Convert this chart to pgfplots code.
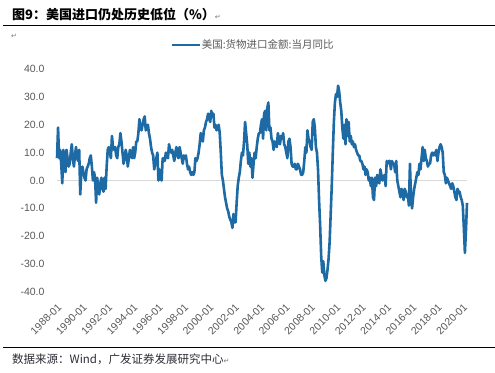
\documentclass[border=0pt]{standalone}
\usepackage{fontspec}
\usepackage{pgfplots}
\pgfplotsset{compat=1.18}
\usepackage{pgfplotstable}
\setmainfont{Liberation Sans}
\newfontfamily\cjk{Noto Sans CJK SC}
\newfontfamily\sym{DejaVu Sans}
\definecolor{lineblue}{RGB}{29,106,165}
\definecolor{txtgray}{RGB}{89,89,89}
\definecolor{zerogray}{RGB}{217,217,217}
\definecolor{srcgray}{RGB}{45,45,55}
\definecolor{markgray}{RGB}{120,120,120}

% US goods imports, YoY %, monthly from 1988-01 to 2020-05
\pgfplotstableread[row sep=\\]{
v\\
8\\19\\8\\11\\6\\-1\\11\\7\\3\\11\\8\\5\\
6\\10\\13\\8\\5\\9\\12\\8\\7\\11\\-5\\3\\
5\\3\\1\\0\\4\\5\\6\\8\\9\\5\\0\\3\\
1\\-8\\1\\-2\\-5\\-1\\1\\-3\\-4\\1\\-3\\5\\
11\\12\\10\\8\\16\\12\\11\\12\\9\\8\\12\\13\\
17\\14\\10\\6\\8\\11\\9\\5\\8\\11\\9\\8\\
12\\8\\10\\14\\14\\17\\22\\19\\18\\20\\22\\23\\
18\\19\\20\\17\\15\\12\\10\\9\\4\\6\\8\\10\\
0\\4\\1\\0\\8\\8\\7\\10\\9\\8\\13\\11\\
10\\11\\9\\7\\10\\12\\9\\8\\12\\10\\8\\6\\
9\\8\\9\\6\\4\\5\\3\\2\\3\\2\\3\\8\\
7\\8\\10\\13\\17\\15\\14\\18\\19\\21\\22\\24\\
22\\21\\25\\23\\24\\19\\20\\18\\19\\20\\17\\10\\
2\\0\\-3\\-6\\-8\\-10\\-11\\-13\\-14\\-15\\-17\\-12\\
-15\\-15\\-8\\-2\\1\\3\\7\\10\\9\\14\\21\\17\\
13\\6\\10\\5\\8\\1\\6\\10\\8\\12\\15\\17\\
17\\20\\22\\15\\24\\25\\18\\26\\28\\18\\19\\15\\
14\\11\\14\\13\\12\\17\\15\\13\\16\\15\\17\\13\\
12\\10\\8\\14\\15\\12\\6\\5\\5\\6\\4\\4\\
6\\5\\4\\2\\2\\3\\7\\12\\10\\18\\15\\14\\
12\\11\\21\\22\\19\\12\\10\\4\\-7\\-16\\-27\\-33\\
-29\\-34\\-36\\-35\\-32\\-28\\-22\\-12\\-2\\10\\21\\28\\
31\\30\\34\\32\\28\\25\\19\\15\\20\\13\\22\\16\\
21\\14\\16\\13\\14\\12\\13\\11\\10\\9\\9\\7\\
7\\6\\4\\5\\2\\4\\3\\0\\1\\-2\\1\\-6\\
-7\\1\\-2\\2\\0\\-1\\4\\2\\0\\1\\2\\-2\\
7\\6\\7\\7\\4\\7\\6\\6\\3\\7\\0\\-2\\
-4\\-6\\-3\\-4\\-7\\-3\\-4\\-6\\-5\\-9\\6\\-6\\
-10\\-6\\-3\\-1\\1\\3\\2\\6\\4\\8\\12\\7\\
11\\8\\7\\5\\6\\6\\9\\10\\9\\10\\9\\11\\
7\\10\\12\\13\\12\\10\\3\\2\\-1\\1\\0\\-1\\
-2\\-3\\-1\\-2\\-4\\-6\\-7\\-3\\-4\\-4\\-6\\-7\\
-9\\-17\\-26\\-18\\-8\\
}\imports

\begin{document}
\begin{tikzpicture}[x=1bp,y=1bp]
\path[use as bounding box] (0,0) rectangle (495,372);
% title
\node[anchor=west, inner sep=0pt, font=\cjk\bfseries\fontsize{13bp}{15bp}\selectfont] at (12,358)
  {图9：美国进口仍处历史低位（\%）{\sym\mdseries\color{markgray}\fontsize{7bp}{8bp}\selectfont ↵}};
\draw[line width=0.9bp] (3,347) -- (495,347);
\node[anchor=west, inner sep=0pt, font=\sym\fontsize{7bp}{8bp}\selectfont, text=markgray] at (11,336) {↵};
% source
\draw[line width=0.9bp] (3,24.7) -- (495,24.7);
\node[anchor=west, inner sep=0pt, font=\cjk\fontsize{11.5bp}{13bp}\selectfont, text=srcgray] at (12,12.5)
  {数据来源：Wind，广发证券发展研究中心{\sym\color{markgray}\fontsize{7bp}{8bp}\selectfont ↵}};
\begin{axis}[
  at={(57bp,80bp)}, anchor=south west,
  scale only axis, width=410bp, height=223bp,
  xmin=0, xmax=388, ymin=-40, ymax=40,
  axis line style={draw=none}, tick style={draw=none}, major tick length=0pt,
  xtick={0,24,...,384},
  xticklabels={1988-01,1990-01,1992-01,1994-01,1996-01,1998-01,2000-01,2002-01,2004-01,2006-01,2008-01,2010-01,2012-01,2014-01,2016-01,2018-01,2020-01},
  ytick={-40,-30,...,40},
  yticklabels={-40.0,-30.0,-20.0,-10.0,0.0,10.0,20.0,30.0,40.0},
  ticklabel style={font=\fontsize{10.5bp}{12bp}\selectfont, text=txtgray},
  xticklabel style={yshift=-9bp, rotate=45, anchor=north east, inner sep=1bp},
  yticklabel style={xshift=-9bp},
  legend style={at={(0.2756,1.1076)}, anchor=west, draw=none, fill=none, inner sep=0pt,
    font=\cjk\fontsize{10.5bp}{12bp}\selectfont, text=txtgray,
    nodes={inner sep=1bp}},
  legend image code/.code={\draw[#1, line width=2.6bp] (0bp,0bp) -- (28bp,0bp);},
  clip=false
]
\addplot[zerogray, line width=0.8bp, forget plot] coordinates {(0,0) (388,0)};
\addplot[lineblue, line width=2.6bp, line join=round] table[x expr=\coordindex, y=v] {\imports};
\addlegendentry{美国:货物进口金额:当月同比}
\end{axis}
\end{tikzpicture}
\end{document}
